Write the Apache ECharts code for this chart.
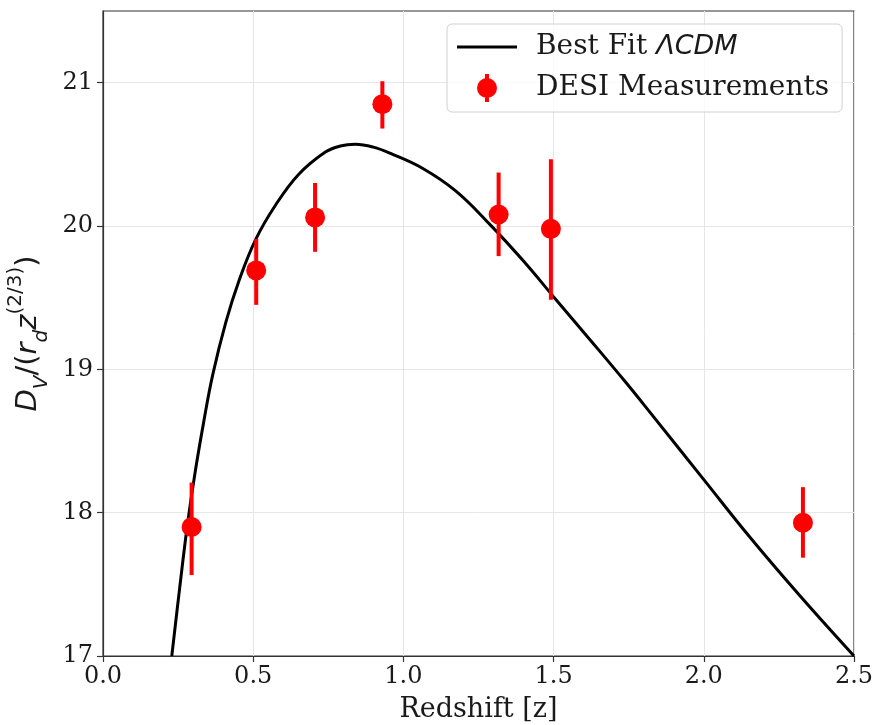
<!DOCTYPE html>
<html>
<head>
<meta charset="utf-8">
<script src="https://cdn.jsdelivr.net/npm/echarts@6/dist/echarts.min.js"></script>
<style>
html,body{margin:0;padding:0;background:#fff;}
#chart{width:877px;height:725px;}
</style>
</head>
<body>
<div id="chart"></div>
<script>
// Best-fit ΛCDM curve
const zFit  = [0.229, 0.255, 0.280, 0.305, 0.335, 0.365, 0.409, 0.453, 0.508, 0.574, 0.651, 0.739, 0.790, 0.840, 0.900, 0.959, 1.062, 1.174, 1.287, 1.399, 1.511, 1.624, 1.736, 1.821, 2.004, 2.153, 2.320, 2.500];
const dvFit = [17.00, 17.47, 17.90, 18.26, 18.63, 18.96, 19.33, 19.62, 19.905, 20.145, 20.36, 20.515, 20.558, 20.570, 20.550, 20.505, 20.405, 20.245, 20.013, 19.757, 19.479, 19.20, 18.92, 18.70, 18.22, 17.83, 17.42, 17.00];

// DESI measurements
const zData  = [0.295, 0.51, 0.706, 0.93, 1.317, 1.491, 2.33];
const dvData = [17.90, 19.69, 20.06, 20.85, 20.08, 19.98, 17.93];
const errLow  = [17.565, 19.45, 19.82, 20.68, 19.79, 19.486, 17.686];
const errHigh = [18.21, 19.91, 20.30, 21.01, 20.373, 20.466, 18.178];

// Axis ticks
const xTicks = [0.0, 0.5, 1.0, 1.5, 2.0, 2.5];
const yTicks = [17, 18, 19, 20, 21];

const fitName = 'Best Fit ΛCDM';
const desiName = 'DESI Measurements';

const chart = echarts.init(document.getElementById('chart'), null, {renderer: 'canvas'});

const serif = 'DejaVu Serif';
const sans = 'DejaVu Sans';
const txtColor = '#1a1a1a';

const option = {
  animation: false,
  backgroundColor: '#fff',
  grid: {
    left: 103, right: 23, top: 11, bottom: 69,
    outerBoundsMode: 'none', containLabel: false,
    show: true, borderColor: '#333', borderWidth: 1.2, backgroundColor: 'transparent'
  },
  xAxis: {
    type: 'value', min: 0, max: 2.5, interval: 0.5,
    name: 'Redshift [z]', nameLocation: 'middle', nameGap: 40,
    nameTextStyle: {fontFamily: serif, fontSize: 27, color: txtColor},
    axisLine: {show: true, onZero: false, lineStyle: {color: '#333', width: 1.2}},
    axisTick: {show: true, length: 6, lineStyle: {color: '#333', width: 1.2}, customValues: xTicks},
    axisLabel: {fontFamily: serif, fontSize: 24, color: txtColor, margin: 9, customValues: xTicks,
      formatter: v => v.toFixed(1)},
    splitLine: {show: true, lineStyle: {color: '#e6e6e6', width: 1}}
  },
  yAxis: {
    type: 'value', min: 17, max: 21.5, interval: 1,
    name: '{i|D}{s|V}{n|/(}{i|r}{s|d}{i|z}{p|(2/3)}{n|)}',
    nameLocation: 'middle', nameRotate: 90, nameGap: 51,
    nameTextStyle: {
      fontFamily: sans, fontSize: 29, color: txtColor,
      rich: {
        i: {fontFamily: sans, fontStyle: 'italic', fontSize: 29, color: txtColor, lineHeight: 46},
        n: {fontFamily: sans, fontSize: 29, color: txtColor, lineHeight: 46},
        s: {fontFamily: sans, fontStyle: 'italic', fontSize: 20, color: txtColor, lineHeight: 12, verticalAlign: 'bottom'},
        p: {fontFamily: sans, fontSize: 20, color: txtColor, lineHeight: 16, verticalAlign: 'top'}
      }
    },
    axisLine: {show: true, lineStyle: {color: '#333', width: 1.2}},
    axisTick: {show: true, length: 6, lineStyle: {color: '#333', width: 1.2}, customValues: yTicks},
    axisLabel: {fontFamily: serif, fontSize: 24, color: txtColor, margin: 10, customValues: yTicks},
    splitLine: {show: true, lineStyle: {color: '#e6e6e6', width: 1}}
  },
  legend: {
    orient: 'vertical', left: 447, top: 24,
    padding: [9, 13, 10, 10],
    itemWidth: 60, itemHeight: 28, itemGap: 13,
    backgroundColor: 'rgba(255,255,255,0.8)',
    borderColor: '#d0d0d0', borderWidth: 1, borderRadius: 5,
    data: [
      {name: fitName, icon: 'path://M0,0h60v3.2h-60z'},
      {name: desiName, icon: 'path://M8,0h4v28h-4z M0,14a10,10 0 1,1 20,0a10,10 0 1,1 -20,0z'}
    ],
    formatter: name => name === fitName ? '{n|Best Fit }{i|ΛCDM}' : '{n|DESI Measurements}',
    textStyle: {
      fontFamily: serif, fontSize: 28, color: txtColor,
      rich: {
        n: {fontFamily: serif, fontSize: 28, color: txtColor},
        i: {fontFamily: sans, fontStyle: 'italic', fontSize: 27, color: txtColor}
      },
      padding: [0, 0, 0, 14]
    }
  },
  series: [
    {
      name: fitName, type: 'line',
      data: zFit.map((z, i) => [z, dvFit[i]]),
      showSymbol: false, symbol: 'none',
      smooth: 0.4,
      lineStyle: {color: '#000', width: 3},
      itemStyle: {color: '#000'},
      z: 3
    },
    {
      name: 'errorbars', type: 'custom',
      data: zData.map((z, i) => [z, errLow[i], errHigh[i]]),
      renderItem: (params, api) => {
        const lo = api.coord([api.value(0), api.value(1)]);
        const hi = api.coord([api.value(0), api.value(2)]);
        return {
          type: 'line',
          shape: {x1: lo[0], y1: lo[1], x2: hi[0], y2: hi[1]},
          style: {stroke: '#ff0000', lineWidth: 4}
        };
      },
      z: 4, silent: true
    },
    {
      name: desiName, type: 'scatter',
      data: zData.map((z, i) => [z, dvData[i]]),
      symbol: 'circle', symbolSize: 20,
      itemStyle: {color: '#ff0000', opacity: 1},
      z: 5
    }
  ]
};
chart.setOption(option);
</script>
</body>
</html>
